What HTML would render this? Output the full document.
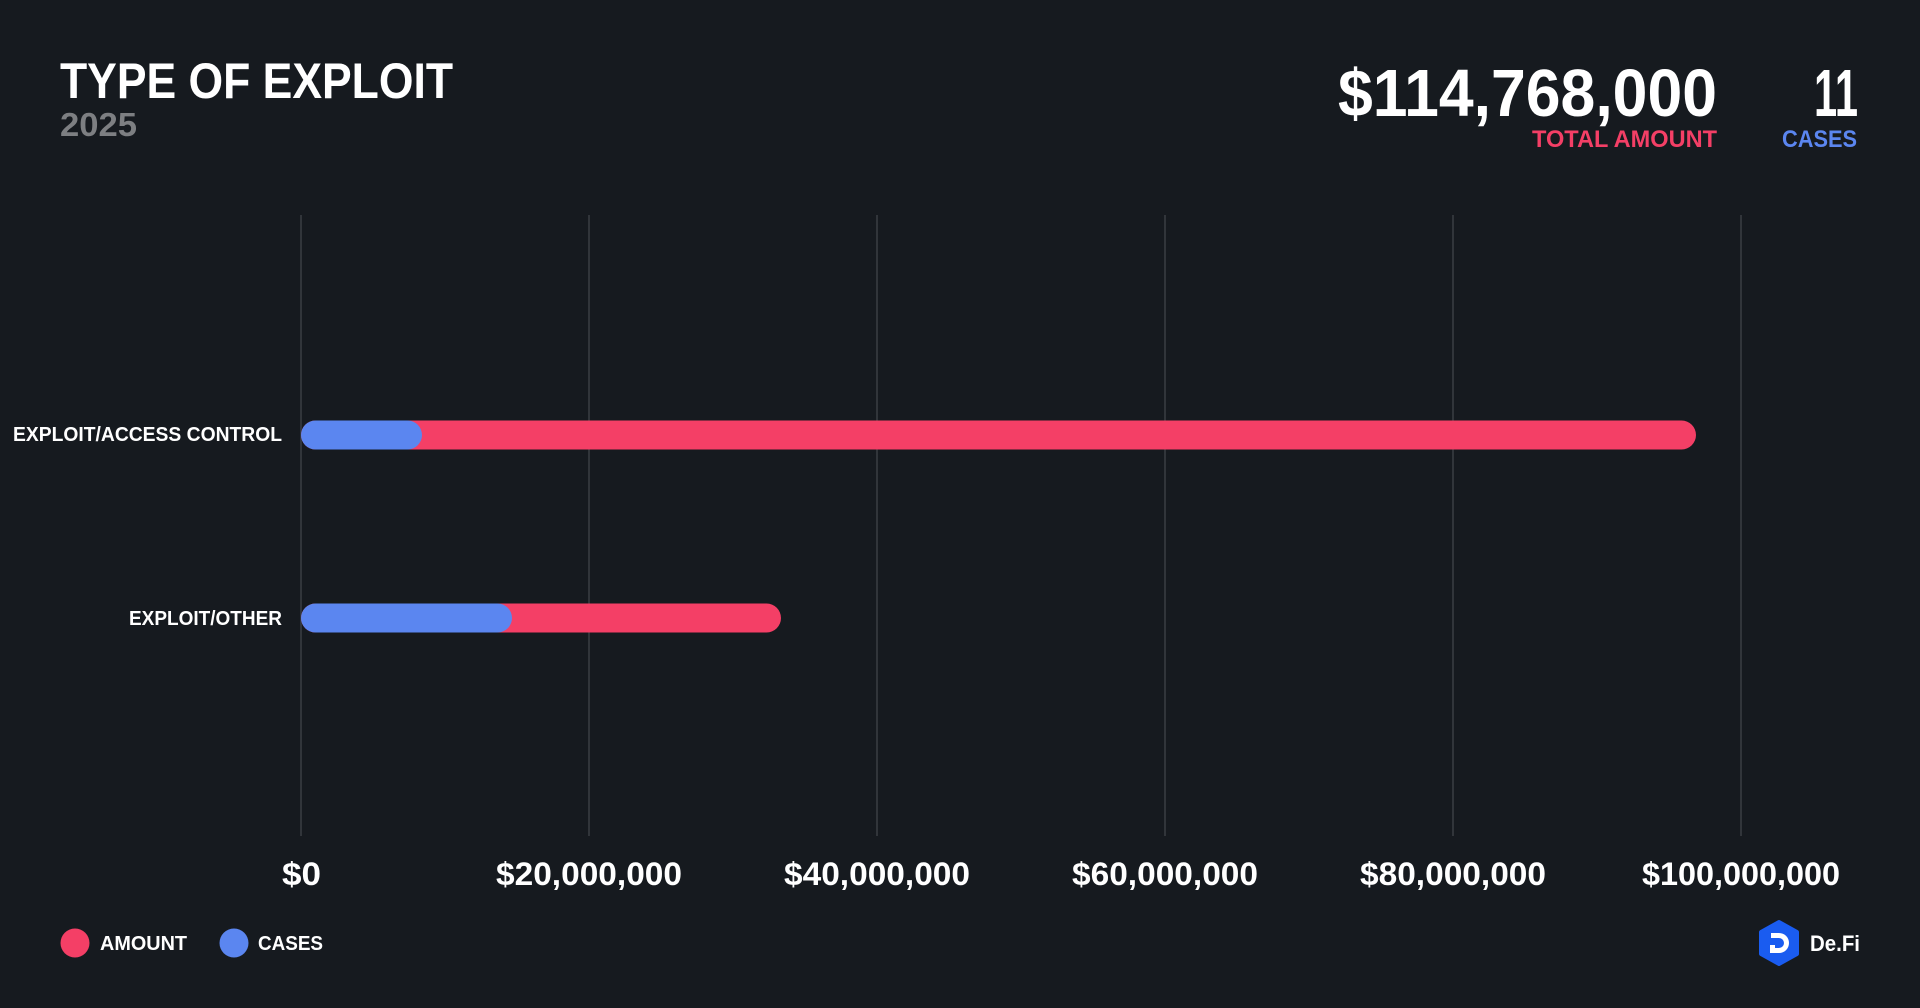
<!DOCTYPE html>
<html><head><meta charset="utf-8"><style>
html,body{margin:0;padding:0;background:#161a1f;}
svg{display:block;font-family:"Liberation Sans",sans-serif;font-weight:bold;}
</style></head><body>
<svg width="1920" height="1008" viewBox="0 0 1920 1008" xmlns="http://www.w3.org/2000/svg">
<rect width="1920" height="1008" fill="#161a1f"/>
<text x="60" y="98" font-size="50" fill="#fff" textLength="393" lengthAdjust="spacingAndGlyphs">TYPE OF EXPLOIT</text>
<text x="60" y="136" font-size="33" fill="#7d7f82" textLength="77" lengthAdjust="spacingAndGlyphs">2025</text>
<text x="1338" y="116" font-size="67" fill="#fff" textLength="379" lengthAdjust="spacingAndGlyphs">$114,768,000</text>
<text x="1532" y="147" font-size="24" fill="#f43f66" textLength="185" lengthAdjust="spacingAndGlyphs">TOTAL AMOUNT</text>
<text x="1814" y="116" font-size="67" fill="#fff" textLength="44" lengthAdjust="spacingAndGlyphs">11</text>
<text x="1782" y="147" font-size="24" fill="#5b86f0" textLength="75" lengthAdjust="spacingAndGlyphs">CASES</text>
<g stroke="#3a3e44" stroke-width="1.5">
<line x1="301" y1="215" x2="301" y2="836"/><line x1="589" y1="215" x2="589" y2="836"/>
<line x1="877" y1="215" x2="877" y2="836"/><line x1="1165" y1="215" x2="1165" y2="836"/>
<line x1="1453" y1="215" x2="1453" y2="836"/><line x1="1741" y1="215" x2="1741" y2="836"/>
</g>
<rect x="301" y="420.5" width="1395" height="29" rx="14.5" fill="#f43f66"/>
<rect x="301" y="420.5" width="121" height="29" rx="14.5" fill="#5b86f0"/>
<rect x="301" y="603.5" width="480" height="29" rx="14.5" fill="#f43f66"/>
<rect x="301" y="603.5" width="211" height="29" rx="14.5" fill="#5b86f0"/>
<text x="13" y="441" font-size="20" fill="#fff" textLength="269" lengthAdjust="spacingAndGlyphs">EXPLOIT/ACCESS CONTROL</text>
<text x="129" y="625" font-size="20" fill="#fff" textLength="153" lengthAdjust="spacingAndGlyphs">EXPLOIT/OTHER</text>
<g font-size="32" fill="#fff">
<text x="282" y="885" textLength="39" lengthAdjust="spacingAndGlyphs">$0</text>
<text x="496" y="885" textLength="186" lengthAdjust="spacingAndGlyphs">$20,000,000</text>
<text x="784" y="885" textLength="186" lengthAdjust="spacingAndGlyphs">$40,000,000</text>
<text x="1072" y="885" textLength="186" lengthAdjust="spacingAndGlyphs">$60,000,000</text>
<text x="1360" y="885" textLength="186" lengthAdjust="spacingAndGlyphs">$80,000,000</text>
<text x="1642" y="885" textLength="198" lengthAdjust="spacingAndGlyphs">$100,000,000</text>
</g>
<circle cx="75" cy="943" r="14.5" fill="#f43f66"/>
<text x="100" y="950" font-size="20" fill="#fff" textLength="87" lengthAdjust="spacingAndGlyphs">AMOUNT</text>
<circle cx="234" cy="943" r="14.5" fill="#5b86f0"/>
<text x="258" y="950" font-size="20" fill="#fff" textLength="65" lengthAdjust="spacingAndGlyphs">CASES</text>
<polygon points="1779,922 1797,932 1797,954 1779,964 1761,954 1761,932" fill="#1a5cf0" stroke="#1a5cf0" stroke-width="4" stroke-linejoin="round"/>
<path d="M1771,933 h8 a10,10 0 0 1 0,20 h-9 v-8 h5 v3 h4 a5,5 0 0 0 0,-10 h-8 z" fill="#fff"/>
<text x="1810" y="951" font-size="22" fill="#fff" textLength="50" lengthAdjust="spacingAndGlyphs">De.Fi</text>
</svg>
</body></html>
